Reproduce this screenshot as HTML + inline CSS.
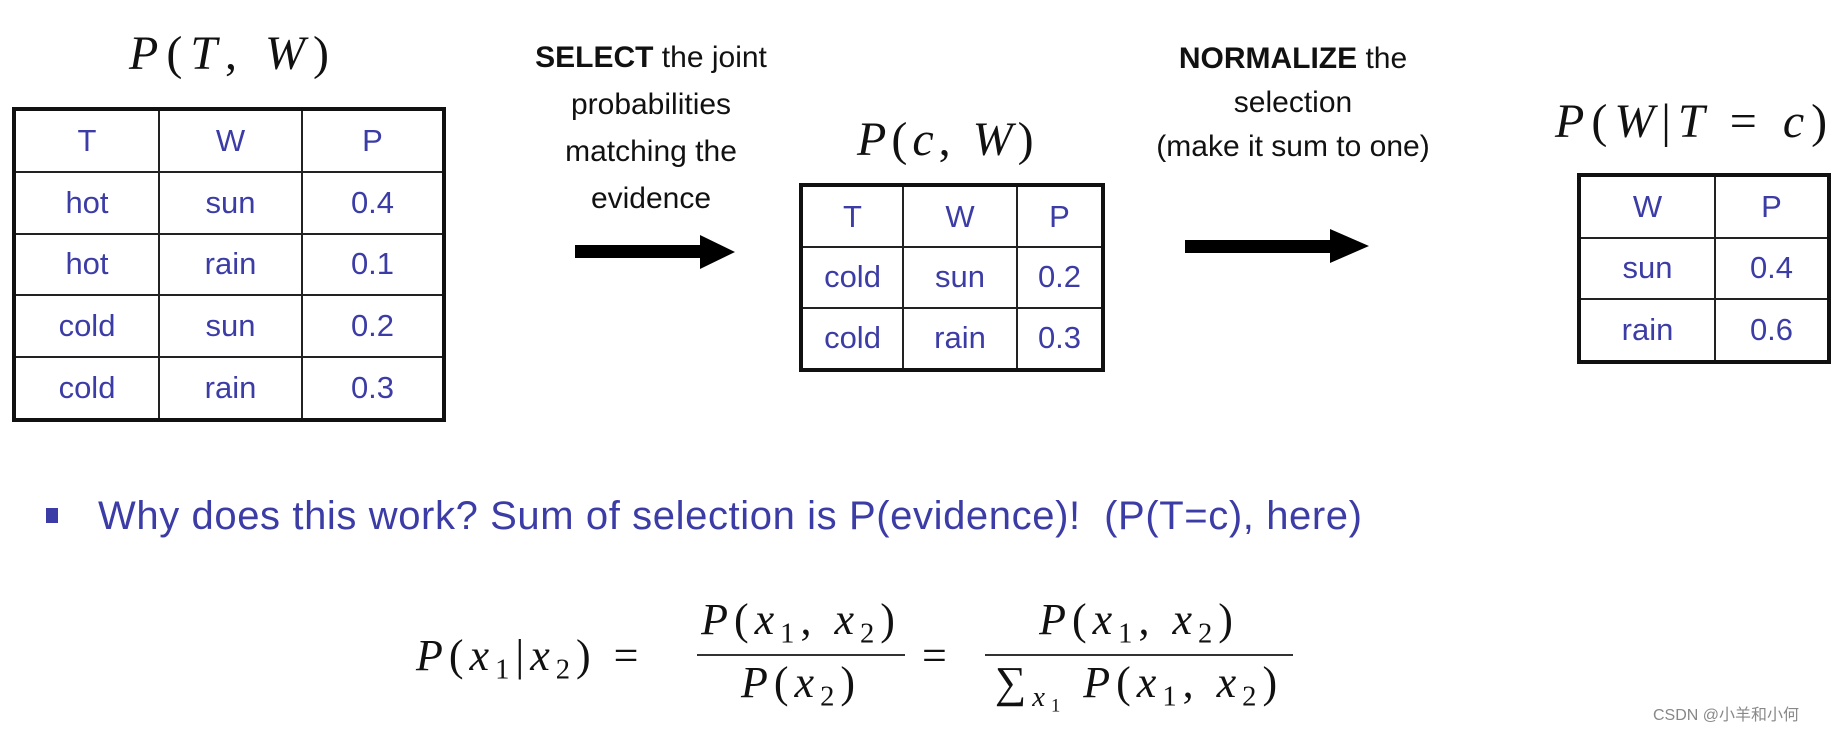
<!DOCTYPE html>
<html><head><meta charset="utf-8"><style>
body{margin:0;width:1839px;height:730px;background:#fff;position:relative;overflow:hidden;font-family:"Liberation Sans",sans-serif}
.a{position:absolute;white-space:nowrap}
table{position:absolute;border-collapse:collapse;border:4px solid #111;table-layout:fixed}
td{border:2px solid #222;text-align:center;color:#3c3ca6;font-size:31px;padding:0}
.m{font-family:"Liberation Serif",serif;font-style:italic;color:#111;letter-spacing:6px}
.r{font-style:normal}
.t{font-size:30px;color:#111;text-align:center;line-height:47px}
.frac{position:absolute;text-align:center}
sub{font-size:0.65em;font-style:normal;vertical-align:-0.3em}
</style></head><body>

<div class="a m" style="left:129px;top:26px;font-size:48px;letter-spacing:8px">P<span class="r">(</span>T<span class="r">,</span> W<span class="r">)</span></div>
<table style="left:12px;top:107px;width:434px;height:315px">
<colgroup><col style="width:145px"><col style="width:143px"><col></colgroup>
<tr><td>T</td><td>W</td><td>P</td></tr>
<tr><td>hot</td><td>sun</td><td>0.4</td></tr>
<tr><td>hot</td><td>rain</td><td>0.1</td></tr>
<tr><td>cold</td><td>sun</td><td>0.2</td></tr>
<tr><td>cold</td><td>rain</td><td>0.3</td></tr>
</table>

<div class="a t" style="left:511px;top:34px;width:280px"><b>SELECT</b> the joint<br>probabilities<br>matching the<br>evidence</div>
<svg class="a" style="left:570px;top:230px" width="170" height="45"><rect x="5" y="15" width="130" height="13" fill="#000"/><polygon points="130,5 165,22 130,39" fill="#000"/></svg>

<div class="a m" style="left:857px;top:112px;font-size:48px;letter-spacing:5px">P<span class="r">(</span>c<span class="r">,</span> W<span class="r">)</span></div>
<table style="left:799px;top:183px;width:306px;height:189px">
<colgroup><col style="width:102px"><col style="width:114px"><col></colgroup>
<tr><td>T</td><td>W</td><td>P</td></tr>
<tr><td>cold</td><td>sun</td><td>0.2</td></tr>
<tr><td>cold</td><td>rain</td><td>0.3</td></tr>
</table>

<div class="a t" style="left:1123px;top:37px;width:340px;line-height:44px"><b>NORMALIZE</b> the<br>selection<br>(make it sum to one)</div>
<svg class="a" style="left:1180px;top:223px" width="200" height="45"><rect x="5" y="17" width="150" height="13" fill="#000"/><polygon points="150,6 189,23 150,40" fill="#000"/></svg>

<div class="a m" style="left:1555px;top:94px;font-size:48px;letter-spacing:7px">P<span class="r">(</span>W<span class="r">|</span>T <span class="r">=</span> c<span class="r">)</span></div>
<table style="left:1577px;top:173px;width:254px;height:191px">
<colgroup><col style="width:136px"><col></colgroup>
<tr><td>W</td><td>P</td></tr>
<tr><td>sun</td><td>0.4</td></tr>
<tr><td>rain</td><td>0.6</td></tr>
</table>

<div class="a" style="left:46px;top:508px;width:12px;height:15px;background:#3c3ca6"></div>
<div class="a" style="left:98px;top:494px;font-size:40px;letter-spacing:0.6px;color:#3c3ca6">Why does this work? Sum of selection is P(evidence)!&nbsp; (P(T=c), here)</div>

<div class="a m" style="left:416px;top:630px;font-size:44px">P<span class="r">(</span>x<sub>1</sub><span class="r">|</span>x<sub>2</sub><span class="r">) =</span></div>
<div class="frac m" style="left:697px;top:594px;width:208px;font-size:44px">P<span class="r">(</span>x<sub>1</sub><span class="r">,</span> x<sub>2</sub><span class="r">)</span></div>
<div class="a" style="left:697px;top:654px;width:208px;height:2px;background:#333"></div>
<div class="frac m" style="left:697px;top:657px;width:208px;font-size:44px">P<span class="r">(</span>x<sub>2</sub><span class="r">)</span></div>
<div class="a m" style="left:922px;top:630px;font-size:44px"><span class="r">=</span></div>
<div class="frac m" style="left:985px;top:594px;width:308px;font-size:44px">P<span class="r">(</span>x<sub>1</sub><span class="r">,</span> x<sub>2</sub><span class="r">)</span></div>
<div class="a" style="left:985px;top:654px;width:308px;height:2px;background:#333"></div>
<div class="frac m" style="left:985px;top:657px;width:308px;font-size:44px"><span class="r">&sum;</span><sub style="font-style:italic">x<sub>1</sub></sub> P<span class="r">(</span>x<sub>1</sub><span class="r">,</span> x<sub>2</sub><span class="r">)</span></div>

<div class="a" style="left:1653px;top:701px;font-size:16px;color:#888;font-family:'Liberation Sans','Noto Sans CJK SC',sans-serif">CSDN @小羊和小何</div>
</body></html>
